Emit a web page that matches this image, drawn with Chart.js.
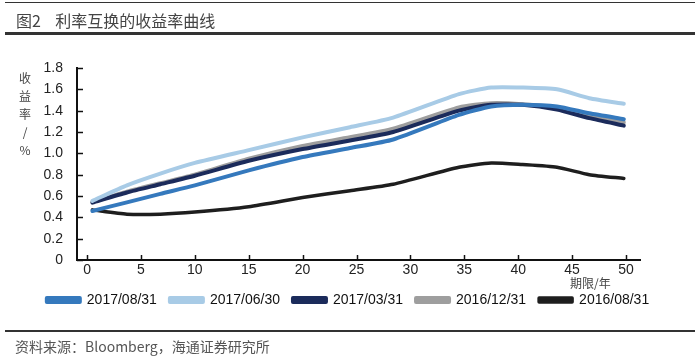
<!DOCTYPE html>
<html>
<head>
<meta charset="utf-8">
<script src="https://cdn.jsdelivr.net/npm/chart.js@4/dist/chart.umd.min.js"></script>
<style>
  html, body { margin: 0; padding: 0; background: #fff; }
  #wrap { position: relative; width: 700px; height: 357px; overflow: hidden; font-family: "Noto Sans CJK SC", "Liberation Sans", sans-serif; }
  #c { position: absolute; left: 0; top: 0; }
  .hline { position: absolute; left: 5px; width: 690px; background: #333; }
  #title { position: absolute; left: 16px; top: 9px; font-size: 16px; line-height: 22px; color: #444; white-space: pre; }
  #ytitle { position: absolute; left: 17px; top: 69px; width: 16px; font-size: 12px; line-height: 18px; color: #444; text-align: center; }
  #xtitle { position: absolute; left: 570px; top: 275px; font-size: 12px; line-height: 16px; color: #444; white-space: pre; }
  #source { position: absolute; left: 15px; top: 336px; font-size: 14px; line-height: 20px; color: #555; white-space: pre; }
</style>
</head>
<body>
<div id="wrap">
  <canvas id="c" width="700" height="357"></canvas>
  <div class="hline" style="top:2px;height:1px;"></div>
  <div id="title">图2    利率互换的收益率曲线</div>
  <div class="hline" style="top:32px;height:3px;"></div>
  <div id="ytitle">收<br>益<br>率<br>/<br>%</div>
  <div id="xtitle">期限/年</div>
  <div class="hline" style="top:330px;height:2px;"></div>
  <div id="source">资料来源：Bloomberg，海通证券研究所</div>
</div>
<script>
// tenor positions (years)
const tenors = [0.5, 3.7, 6.8, 10, 15, 20, 24.4, 28.4, 34.5, 37.5, 40.4, 43.6, 46.6, 49.8];
const seriesNames = ['2017/08/31', '2017/06/30', '2017/03/31', '2016/12/31', '2016/08/31'];
const s20170831 = [0.46, 0.54, 0.62, 0.70, 0.84, 0.965, 1.05, 1.13, 1.36, 1.44, 1.455, 1.44, 1.375, 1.32];
const s20170630 = [0.554, 0.70, 0.81, 0.91, 1.03, 1.15, 1.245, 1.335, 1.555, 1.617, 1.617, 1.60, 1.517, 1.465];
const s20170331 = [0.538, 0.633, 0.71, 0.79, 0.93, 1.04, 1.12, 1.20, 1.40, 1.455, 1.455, 1.41, 1.33, 1.26];
const s20161231 = [0.545, 0.64, 0.72, 0.80, 0.95, 1.07, 1.15, 1.23, 1.43, 1.47, 1.46, 1.425, 1.35, 1.29];
const s20160831 = [0.47, 0.43, 0.43, 0.45, 0.50, 0.585, 0.65, 0.71, 0.87, 0.91, 0.895, 0.87, 0.80, 0.765];
const xTicks = [0, 5, 10, 15, 20, 25, 30, 35, 40, 45, 50];
const yTicks = [0, 0.2, 0.4, 0.6, 0.8, 1.0, 1.2, 1.4, 1.6, 1.8];

const colors = ['#3579BD', '#A8CBE6', '#1B2B5B', '#9E9E9E', '#1E1E1E'];
const widths = [4, 4, 4, 4, 3.5];
const allSeries = [s20170831, s20170630, s20170331, s20161231, s20160831];

const datasets = allSeries.map((vals, i) => ({
  label: seriesNames[i],
  data: vals.map((v, j) => ({ x: tenors[j], y: v })),
  borderColor: colors[i],
  backgroundColor: colors[i],
  borderWidth: widths[i],
  pointRadius: 0,
  tension: 0.2,
  fill: false,
  borderCapStyle: 'round',
  borderJoinStyle: 'round'
}));

const FONT = "'Liberation Sans', Arial, sans-serif";

// draw inward tick marks on the axes
const innerTicks = {
  id: 'innerTicks',
  afterDraw(chart) {
    const { ctx, scales: { x, y } } = chart;
    ctx.save();
    ctx.strokeStyle = '#111';
    ctx.lineWidth = 1.5;
    x.ticks.forEach(t => {
      const px = Math.round(x.getPixelForValue(t.value)) + 0.5;
      ctx.beginPath(); ctx.moveTo(px, chart.chartArea.bottom); ctx.lineTo(px, chart.chartArea.bottom - 5); ctx.stroke();
    });
    y.ticks.forEach(t => {
      const py = Math.round(y.getPixelForValue(t.value)) + 0.5;
      ctx.beginPath(); ctx.moveTo(chart.chartArea.left, py); ctx.lineTo(chart.chartArea.left + 6, py); ctx.stroke();
    });
    ctx.restore();
  }
};

new Chart(document.getElementById('c'), {
  type: 'line',
  data: { datasets },
  plugins: [innerTicks],
  options: {
    responsive: false,
    animation: false,
    layout: { padding: { left: 0, right: 4, top: 68, bottom: 40 } },
    plugins: {
      legend: {
        position: 'bottom',
        labels: {
          boxWidth: 33,
          boxHeight: 4,
          padding: 13,
          color: '#111',
          font: { family: FONT, size: 14 }
        }
      },
      tooltip: { enabled: false }
    },
    scales: {
      x: {
        type: 'linear',
        min: -0.93,
        max: 51.3,
        afterBuildTicks(scale) { scale.ticks = xTicks.map(v => ({ value: v })); },
        afterFit(scale) { scale.height = 20; },
        grid: { drawOnChartArea: false, drawTicks: false },
        border: { color: '#111', width: 2 },
        ticks: { padding: 2, color: '#222', font: { family: FONT, size: 14 }, maxRotation: 0 }
      },
      y: {
        min: 0,
        max: 1.8,
        afterBuildTicks(scale) { scale.ticks = yTicks.map(v => ({ value: v })); },
        afterFit(scale) { scale.width = 77; },
        grid: { drawOnChartArea: false, drawTicks: false },
        border: { color: '#111', width: 2 },
        ticks: {
          padding: 14,
          color: '#222',
          font: { family: FONT, size: 14 },
          callback: v => (v === 0 ? '0' : v.toFixed(1))
        }
      },
      yRight: {
        position: 'right',
        display: true,
        afterFit(scale) { scale.width = 56; },
        grid: { display: false, drawTicks: false },
        border: { display: false },
        ticks: { display: false }
      }
    }
  }
});
</script>
</body>
</html>
